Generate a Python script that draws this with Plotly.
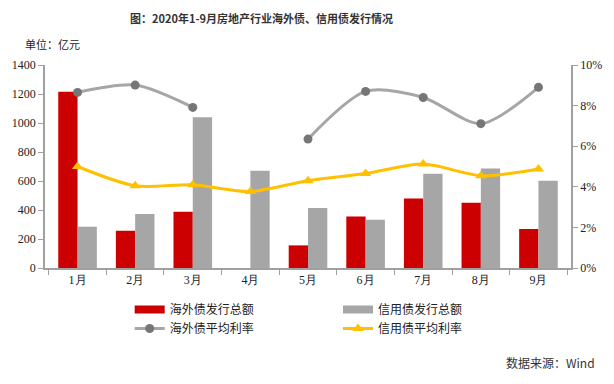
import plotly.graph_objects as go

months = ["1月", "2月", "3月", "4月", "5月", "6月", "7月", "8月", "9月"]
overseas_amount = [1216, 257, 388, None, 156, 356, 480, 450, 269]
credit_amount = [285, 372, 1039, 671, 414, 333, 650, 687, 602]
overseas_rate = [8.65, 9.01, 7.91, None, 6.35, 8.70, 8.40, 7.11, 8.90]
credit_rate = [5.00, 4.05, 4.10, 3.77, 4.30, 4.65, 5.12, 4.55, 4.88]

RED = "#CC0000"
GRAY = "#A6A6A6"
DARK = "#767676"
YEL = "#FFC000"
CJK = "Noto Sans CJK SC"
SERIF = "Liberation Serif, Times New Roman, serif"

fig = go.Figure()
fig.add_trace(go.Bar(x=months, y=overseas_amount, name="海外债发行总额", showlegend=False,
                     marker=dict(color=RED, line=dict(width=0))))
fig.add_trace(go.Bar(x=months, y=credit_amount, name="信用债发行总额", showlegend=False,
                     marker=dict(color=GRAY, line=dict(width=0))))
fig.add_trace(go.Scatter(x=months, y=overseas_rate, name="海外债平均利率", yaxis="y2",
                         mode="lines+markers", connectgaps=False, showlegend=False,
                         line=dict(color=GRAY, width=3, shape="spline", smoothing=0.8),
                         marker=dict(color=DARK, size=9, symbol="circle")))
fig.add_trace(go.Scatter(x=months, y=credit_rate, name="信用债平均利率", yaxis="y2",
                         mode="lines+markers", showlegend=False,
                         line=dict(color=YEL, width=3, shape="spline", smoothing=0.8),
                         marker=dict(color=YEL, size=10, symbol="triangle-up")))

# legend entries (column 1: legend, column 2: legend2)
fig.add_trace(go.Scatter(x=[None], y=[None], mode="lines", name="海外债发行总额",
                         line=dict(color=RED, width=8), legend="legend"))
fig.add_trace(go.Scatter(x=[None], y=[None], mode="lines+markers", name="海外债平均利率",
                         line=dict(color=GRAY, width=3), marker=dict(color=DARK, size=9),
                         legend="legend"))
fig.add_trace(go.Scatter(x=[None], y=[None], mode="lines", name="信用债发行总额",
                         line=dict(color=GRAY, width=8), legend="legend2"))
fig.add_trace(go.Scatter(x=[None], y=[None], mode="lines+markers", name="信用债平均利率",
                         line=dict(color=YEL, width=3),
                         marker=dict(color=YEL, size=10, symbol="triangle-up"),
                         legend="legend2"))

axis_line = "#A0A0A0"
tickfont = dict(family=SERIF, size=12, color="#222")
legfont = dict(family=CJK, size=12, color="#222")
fig.update_layout(
    width=606, height=376,
    margin=dict(l=37, r=43, t=57, b=116),
    paper_bgcolor="white", plot_bgcolor="white",
    barmode="group", bargap=0.33, bargroupgap=0,
    font=dict(family=CJK, size=12, color="#333333"),
    xaxis=dict(showline=True, linecolor=axis_line, linewidth=1.5, automargin=False,
               ticks="outside", tickson="boundaries", ticklen=5, tickcolor=axis_line,
               showgrid=False, tickfont=tickfont),
    yaxis=dict(range=[0, 1400], dtick=200, showline=True, linecolor=axis_line, linewidth=1.5,
               automargin=False,
               ticks="outside", ticklen=5, tickcolor=axis_line, showgrid=False, zeroline=False,
               tickfont=tickfont),
    yaxis2=dict(range=[0, 10], dtick=2, ticksuffix="%", overlaying="y", side="right",
                showline=True, linecolor=axis_line, linewidth=1.5, automargin=False,
                ticks="outside", ticklen=5, tickcolor=axis_line, showgrid=False, zeroline=False,
                tickfont=tickfont),
    legend=dict(orientation="v", x=0.161, xanchor="left", y=-0.133, yanchor="top",
                font=legfont, bgcolor="rgba(0,0,0,0)", itemwidth=30, tracegroupgap=0),
    legend2=dict(orientation="v", x=0.557, xanchor="left", y=-0.133, yanchor="top",
                 font=legfont, bgcolor="rgba(0,0,0,0)", itemwidth=30, tracegroupgap=0),
    annotations=[
        dict(text="<b>图：2020年1-9月房地产行业海外债、信用债发行情况</b>", xref="paper", yref="paper",
             x=0, xshift=83, y=1, xanchor="left", yanchor="middle", yshift=47,
             showarrow=False, font=dict(family=CJK, size=11, color="#333")),
        dict(text="单位：亿元", xref="paper", yref="paper", x=0, xshift=-22, y=1, yshift=21,
             xanchor="left", yanchor="middle", showarrow=False,
             font=dict(family=CJK, size=11, color="#222")),
        dict(text="数据来源：Wind", xref="paper", yref="paper", x=1, xshift=26, y=0, yshift=-94,
             xanchor="right", yanchor="middle", showarrow=False,
             font=dict(family=CJK, size=12, color="#333")),
    ],
)
fig.write_html("out.html")
